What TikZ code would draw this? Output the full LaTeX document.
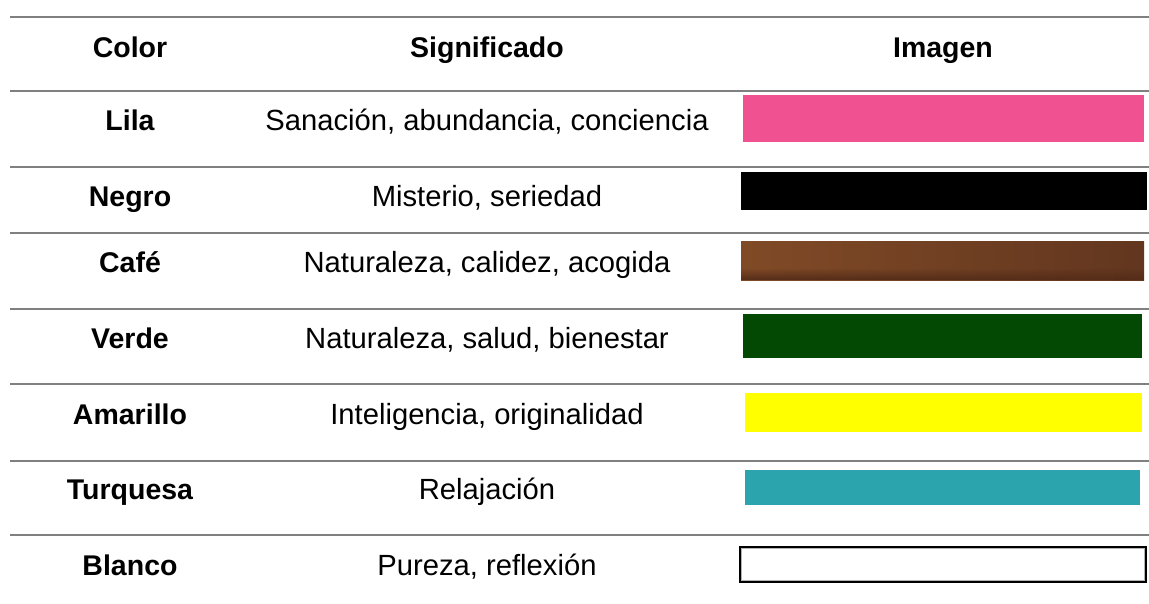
\documentclass[tikz,border=0pt]{standalone}
\usepackage{fontspec}
\setmainfont{Liberation Sans}
\usetikzlibrary{fadings}
\begin{document}
\begin{tikzpicture}[x=1pt,y=-1pt,
  rule/.style={draw={rgb,255:red,128;green,128;blue,128},line width=1.5pt},
  txt/.style={anchor=base,inner sep=0pt,font=\fontsize{29.2}{34}\selectfont},
  btxt/.style={anchor=base,inner sep=0pt,font=\fontsize{28.5}{34}\selectfont\bfseries},
  swatch/.style={inner sep=0pt,outer sep=0pt,draw=none}]
\useasboundingbox (0,0) rectangle (1149,603);
\fill[white] (0,0) rectangle (1149,603);
\definecolor{pinkc}{RGB}{239,81,145}
\definecolor{greenc}{RGB}{3,72,3}
\definecolor{turqc}{RGB}{44,164,174}
\definecolor{yelc}{RGB}{255,255,0}
\definecolor{brownL}{RGB}{128,74,38}
\definecolor{brownR}{RGB}{98,54,31}
\definecolor{brownD}{RGB}{84,44,24}
% rules
\foreach \yy in {17,91,167,233,309,384,461,535}
  \draw[rule] (10,\yy) -- (1149,\yy);
% header
\node[btxt] (hcolor) at (130,57) {Color};
\node[btxt] (hsig) at (487,57) {Significado};
\node[btxt] (himg) at (943,57) {Imagen};
% rows
\node[btxt] (c1) at (130,130) {Lila};
\node[txt]  (s1) at (487,130) {Sanación, abundancia, conciencia};
\node[btxt] (c2) at (130,206) {Negro};
\node[txt]  (s2) at (487,206) {Misterio, seriedad};
\node[btxt] (c3) at (130,272) {Café};
\node[txt]  (s3) at (487,272) {Naturaleza, calidez, acogida};
\node[btxt] (c4) at (130,348) {Verde};
\node[txt]  (s4) at (487,348) {Naturaleza, salud, bienestar};
\node[btxt] (c5) at (130,424) {Amarillo};
\node[txt]  (s5) at (487,424) {Inteligencia, originalidad};
\node[btxt] (c6) at (130,499) {Turquesa};
\node[txt]  (s6) at (487,499) {Relajación};
\node[btxt] (c7) at (130,575) {Blanco};
\node[txt]  (s7) at (487,575) {Pureza, reflexión};
% swatches
\fill[pinkc] (743,95) rectangle (1144,142);
\fill[black] (741,172) rectangle (1147,210);
\shade[left color=brownL,right color=brownR] (741,241) rectangle (1144,280);
\fill[brownD,path fading=north] (741,268) rectangle (1144,280);
\fill[greenc] (743,314) rectangle (1142,358);
\fill[yelc] (745,393) rectangle (1142,432);
\fill[turqc] (745,470) rectangle (1140,505);
\draw[black,line width=1.6pt] (740,547) rectangle (1146,582);
\draw[gray!60,line width=0.8pt] (741.8,548.8) rectangle (1144.2,580.2);
\end{tikzpicture}
\end{document}
